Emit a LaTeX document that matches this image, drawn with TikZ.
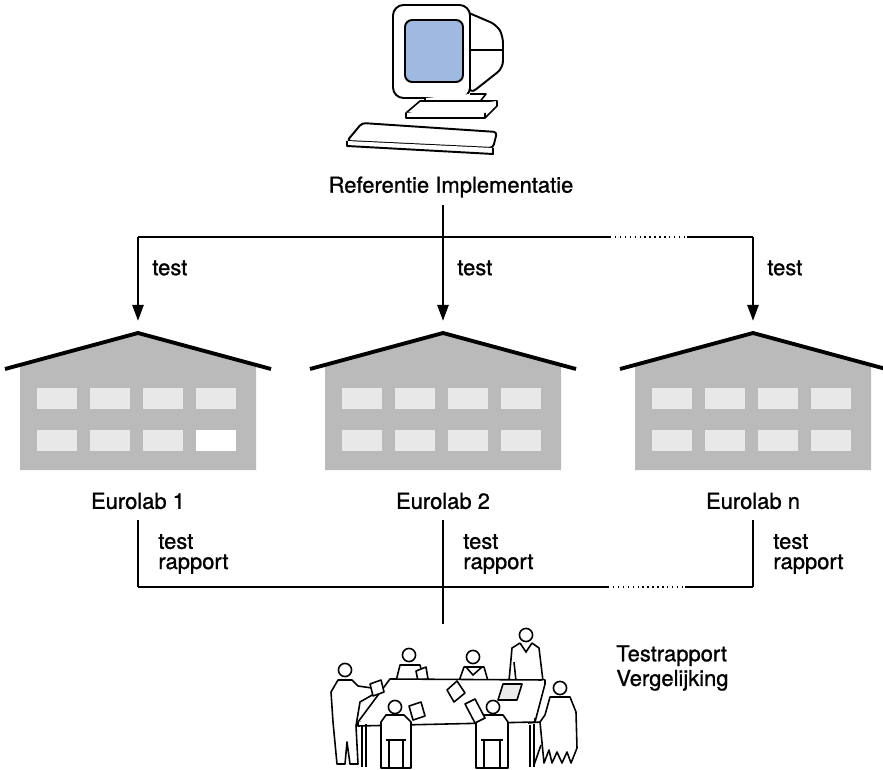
\documentclass[tikz,border=0pt]{standalone}
\usepackage{fontspec}
\setmainfont{TeX Gyre Heros}[FakeBold=1]
\usetikzlibrary{arrows.meta,calc}
\definecolor{screenblue}{RGB}{160,185,225}
\tikzstyle{txt}=[font=\fontsize{12.5}{14}\selectfont, inner sep=0pt, align=left]
\tikzstyle{wire}=[draw,thick]
\tikzstyle{testedge}=[draw,thick,-{Triangle[length=9pt,width=6.5pt]},shorten >=7pt]
\tikzstyle{roofline}=[draw,line width=2.2pt]
\tikzstyle{wall}=[fill=black!27]
\tikzstyle{window}=[fill=black!9]
\tikzstyle{outline}=[draw,fill=white,line width=0.9pt,line join=round]
\tikzstyle{head}=[circle,draw,fill=white,line width=0.9pt,minimum size=7.5pt,inner sep=0pt]

\begin{document}
\begin{tikzpicture}[x=0.02cm, y=-0.02cm]
\useasboundingbox (0,0) rectangle (883,770);

% computer: monitor, stand, keyboard
\draw[outline,line width=1.1pt,rounded corners=4pt] (455,7) -- (497,25) -- (503,36) -- (503,68) -- (470,94) -- cycle;
\draw[thick] (470,50) -- (503,50);
\draw[outline,line width=1.1pt,rounded corners=6pt] (393,5) rectangle (470,98);
\draw[line width=1.1pt,rounded corners=4pt,fill=screenblue] (405,20) rectangle (463,82);
\draw[outline] (425,98) -- (425,104) -- (478,104) -- (486,94) -- (470,94);
\draw[outline] (406,113) -- (420,101) -- (497,101) -- (485,113) -- cycle;
\draw[outline] (406,113) -- (406,118) -- (485,118) -- (497,106) -- (497,101) (485,113) -- (485,118);
\draw[outline,line width=1.1pt,rounded corners=2pt] (362,123) -- (497,132) -- (493,148) -- (347,141) -- cycle;
\draw[outline,line width=1.1pt] (347,141) -- (347,146) -- (493,154) -- (493,148);

\node[txt] (ref) at (451,187) {Referentie Implementatie};

% the three labs
\foreach \dx/\name in {138/1, 443/2, 753/n} {
  \fill[wall] (\dx-118,470) -- (\dx-118,365) -- (\dx,333) -- (\dx+118,365) -- (\dx+118,470) -- cycle;
  \foreach \wx in {-101,-48,5,58}
    \foreach \wy in {388,430}
      \fill[window] (\dx+\wx,\wy) rectangle ++(40,21);
  \draw[roofline] (\dx-133,369) -- (\dx,333) coordinate (roof\name) -- (\dx+133,369);
  \node[txt] (lab\name) at (\dx,501) {Eurolab \name};
}
\fill[white] (196,430) rectangle ++(40,21);

% tests sent out to the labs
\coordinate (bus) at (0,237);
\coordinate (gapL) at (610,237);
\coordinate (gapR) at (687,237);
\draw[wire,shorten <=4pt] (ref.south -| roof2) -- (roof2 |- bus);
\draw[wire] (roof1 |- bus) -- (gapL);
\draw[wire,dotted] (gapL) -- (gapR);
\draw[wire] (gapR) -- (roofn |- bus);
\foreach \name in {1,2,n} {
  \path[testedge] (roof\name |- bus) -- (roof\name);
  \node[txt,anchor=west] (test\name) at ($(roof\name |- bus)+(14,31)$) {test};
}

% reports coming back
\coordinate (bus2) at (0,587);
\coordinate (gap2L) at (608,587);
\coordinate (gap2R) at (685,587);
\coordinate (meet) at (443,624);
\foreach \name in {1,2,n} {
  \draw[wire,shorten <=6pt] (lab\name.south) -- (lab\name.south |- bus2);
  \node[txt,anchor=west] (rap\name) at ($(lab\name.south |- bus2)+(20,-33)$) {test\\[-2.5pt]rapport};
}
\draw[wire] (lab1.south |- bus2) -- (gap2L);
\draw[wire,dotted] (gap2L) -- (gap2R);
\draw[wire] (gap2R) -- (labn.south |- bus2);
\draw[wire] (lab2.south |- bus2) -- (meet);

\node[txt,anchor=west] (cmp) at (616,668) {Testrapport\\Vergelijking};

% meeting: people behind the table
\draw[outline] (520,643) -- (512,648) -- (509,681) -- (543,681) -- (539,648) -- (532,643);
\draw[line width=0.9pt] (520,643) -- (526,652) -- (532,643) (514,662) -- (516,681);
\draw[outline] (400,665) -- (396,681) -- (424,681) -- (420,665) -- cycle;
\draw[outline] (416,671) -- (426,667) -- (428,679) -- (418,681) -- cycle;
\draw[outline] (464,667) -- (459,681) -- (488,681) -- (484,667) -- cycle;
\draw[line width=0.9pt] (466,667) -- (473,675) -- (482,667);
\foreach \pos/\name in {{(526,635)/hA}, {(409,655)/hB}, {(473,657)/hC}}
  \node[head] (\name) at \pos {};

% table with papers
\draw[outline] (390,679) -- (545,680) -- (535,718) -- (358,722) -- cycle;
\draw[outline] (358,722) -- (358,726) -- (535,722) -- (545,684) -- (545,680) (535,718) -- (535,722);
\foreach \lx in {362,530}
  \draw[line width=0.9pt] (\lx,725) -- (\lx,767) (\lx+4,724) -- (\lx+4,767);
\draw[outline] (447,690) -- (457,681) -- (465,693) -- (454,702) -- cycle;
\draw[outline,fill=black!8] (503,684) -- (522,684) -- (517,700) -- (498,700) -- cycle;

% meeting: people in front
\draw[outline] (338,680) -- (331,692) -- (333,722) -- (337,764) -- (345,764) -- (347,742) -- (350,764) -- (358,764) -- (356,726) -- (360,702) -- (374,694) -- (372,688) -- (358,686) -- (352,680) -- cycle;
\draw[outline] (370,684) -- (381,680) -- (384,692) -- (373,696) -- cycle;
\draw[outline] (550,697) -- (545,715) -- (540,722) -- (544,763) -- (549,750) -- (552,763) -- (557,752) -- (562,763) -- (567,752) -- (571,763) -- (577,748) -- (576,712) -- (570,697) -- cycle;
\draw[line width=0.9pt] (540,722) -- (528,723) (541,745) -- (534,765);
\draw[outline] (386,715) -- (381,722) -- (381,768) -- (411,768) -- (411,722) -- (404,715) -- cycle;
\draw[line width=0.9pt] (386,740) -- (406,740) (389,740) -- (389,768) (403,740) -- (403,768);
\draw[outline] (409,706) -- (421,702) -- (425,716) -- (413,720) -- cycle;
\draw[outline] (481,715) -- (476,722) -- (476,768) -- (508,768) -- (508,722) -- (503,715) -- cycle;
\draw[line width=0.9pt] (481,740) -- (503,740) (484,740) -- (484,768) (500,740) -- (500,768);
\draw[outline] (465,704) -- (475,699) -- (485,718) -- (475,723) -- cycle;
\foreach \pos/\name in {{(345,670)/hD}, {(560,688)/hE}, {(395,707)/hF}, {(493,707)/hG}}
  \node[head] (\name) at \pos {};

\end{tikzpicture}
\end{document}
